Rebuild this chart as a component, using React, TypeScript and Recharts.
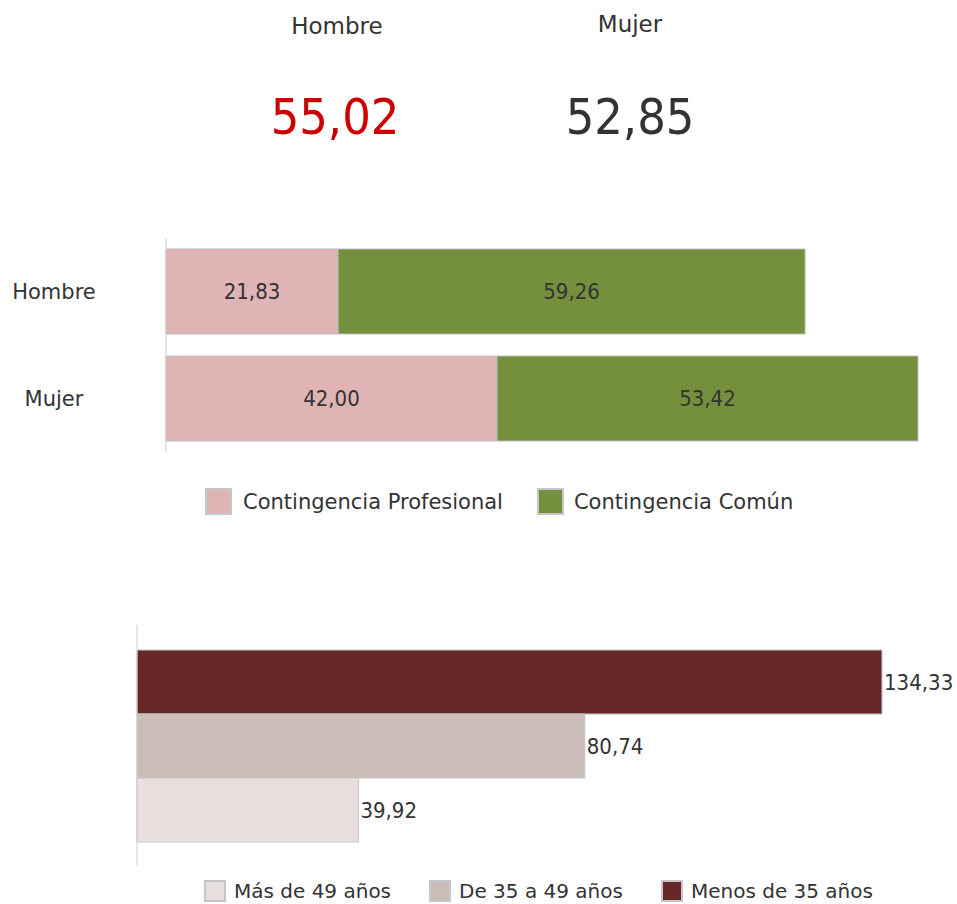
import React from 'react';
import { BarChart, Bar, XAxis, YAxis, LabelList } from 'recharts';

const GENDERS = ['Hombre', 'Mujer'];
const HEADLINE = [55.02, 52.85];
const HEADLINE_COLORS = ['#cc0000', '#333333'];
const PROFESIONAL = [21.83, 42.0];
const COMUN = [59.26, 53.42];

const AGE_GROUPS = ['Más de 49 años', 'De 35 a 49 años', 'Menos de 35 años'];
const AGE_VALUES = [39.92, 80.74, 134.33];
const AGE_COLORS = ['#e8e0df', '#c9bcb9', '#662828'];

const NUM_FONT = '"DejaVu Sans Condensed", "DejaVu Sans", sans-serif';
const TEXT_FONT = '"DejaVu Sans", sans-serif';
const fmt = (v: any) => Number(v).toFixed(2).replace('.', ',');

const genderData = GENDERS.map((g, i) => ({ name: g, prof: PROFESIONAL[i], comun: COMUN[i] }));
// one category row, series listed top-to-bottom as drawn (youngest first)
const ageRow: any = { name: 'edad' };
AGE_GROUPS.forEach((g, i) => { ageRow[g] = AGE_VALUES[i]; });
const ageOrder = [2, 1, 0];

const GenderTick = (props: any) => (
  <text x={54} y={props.y} textAnchor="middle" dominantBaseline="central" fill="#333" fontSize={21} fontFamily={TEXT_FONT}>
    {props.payload.value}
  </text>
);

const LegendBox = ({ color, size, label, gap, fontSize }: { color: string; size: number; label: string; gap: number; fontSize: number }) => (
  <div style={{ display: 'flex', alignItems: 'center' }}>
    <div style={{ width: size, height: size, background: color, border: '2px solid #c6c6c6', boxSizing: 'border-box' }} />
    <span style={{ marginLeft: gap, fontSize, color: '#333', fontFamily: TEXT_FONT }}>{label}</span>
  </div>
);

export default function App() {
  return (
    <div style={{ position: 'absolute', left: 0, top: 0, width: 957, height: 904, background: '#fff', fontFamily: NUM_FONT }}>
      {GENDERS.map((g, i) => (
        <React.Fragment key={g}>
          <div style={{ position: 'absolute', left: [337, 630][i] - 100, width: 200, top: [13, 11][i], textAlign: 'center', fontSize: 23, color: '#333', fontFamily: TEXT_FONT }}>
            {g}
          </div>
          <div style={{ position: 'absolute', left: [335, 630][i] - 150, width: 300, top: 88, textAlign: 'center', fontSize: 50, color: HEADLINE_COLORS[i] }}>
            {fmt(HEADLINE[i])}
          </div>
        </React.Fragment>
      ))}

      <div style={{ position: 'absolute', left: 0, top: 228 }}>
        <BarChart width={957} height={234} data={genderData} layout="vertical" margin={{ top: 10, right: 39, bottom: 10, left: 8 }} barSize={85}>
          <XAxis type="number" hide domain={[0, 'dataMax']} />
          <YAxis type="category" dataKey="name" width={158} axisLine={{ stroke: '#cccccc' }} tickLine={false} tick={<GenderTick />} />
          <Bar dataKey="prof" stackId="a" fill="#e0b3b4" stroke="#bdbdbd" isAnimationActive={false}>
            <LabelList dataKey="prof" position="center" formatter={fmt} fill="#333" fontSize={22} fontFamily={NUM_FONT} />
          </Bar>
          <Bar dataKey="comun" stackId="a" fill="#74903c" stroke="#bdbdbd" isAnimationActive={false}>
            <LabelList dataKey="comun" position="center" formatter={fmt} fill="#333" fontSize={22} fontFamily={NUM_FONT} />
          </Bar>
        </BarChart>
      </div>

      <div style={{ position: 'absolute', left: 205, top: 488, display: 'flex', gap: 34 }}>
        <LegendBox color="#e0b3b4" size={27} label="Contingencia Profesional" gap={11} fontSize={21} />
        <LegendBox color="#74903c" size={27} label="Contingencia Común" gap={10} fontSize={21} />
      </div>

      <div style={{ position: 'absolute', left: 0, top: 615 }}>
        <BarChart width={957} height={261} data={[ageRow]} layout="vertical" margin={{ top: 10, right: 75, bottom: 10, left: 8 }} barSize={64} barGap={0}>
          <XAxis type="number" hide domain={[0, 'dataMax']} />
          <YAxis type="category" dataKey="name" width={129} axisLine={{ stroke: '#cccccc' }} tickLine={false} tick={false} />
          {ageOrder.map((idx) => (
            <Bar key={AGE_GROUPS[idx]} dataKey={AGE_GROUPS[idx]} fill={AGE_COLORS[idx]} stroke="#c4c4c4" isAnimationActive={false}>
              <LabelList dataKey={AGE_GROUPS[idx]} position="right" offset={2} formatter={fmt} fill="#333" fontSize={22} fontFamily={NUM_FONT} />
            </Bar>
          ))}
        </BarChart>
      </div>

      <div style={{ position: 'absolute', left: 204, top: 879, display: 'flex', gap: 38 }}>
        {AGE_GROUPS.map((g, i) => (
          <LegendBox key={g} color={AGE_COLORS[i]} size={22} label={g} gap={8} fontSize={20} />
        ))}
      </div>
    </div>
  );
}
